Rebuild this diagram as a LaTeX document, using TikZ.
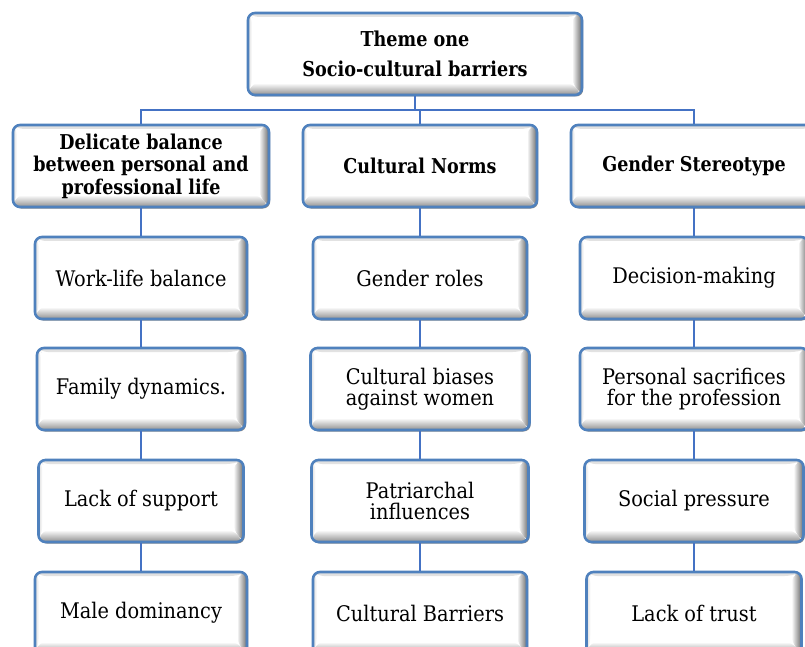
\documentclass[tikz,border=0pt]{standalone}
\usepackage{fontspec}
\setmainfont{DejaVu Serif}
\newfontfamily\leaffont[FakeStretch=0.9]{DejaVu Serif}
\newfontfamily\headfont[FakeStretch=0.86]{DejaVu Serif}
\usetikzlibrary{shadows}
\definecolor{boxblue}{RGB}{79,129,189}
\definecolor{lineblue}{RGB}{68,114,196}
\tikzset{
  box/.style={draw=boxblue, line width=2.6bp, rounded corners=7bp, fill=white,
    align=center, inner sep=2bp, minimum height=82bp,
    drop shadow={shadow xshift=1.2bp, shadow yshift=-1.5bp, opacity=.6, fill=black!75},
    path picture={
      \shade[top color=black!12, bottom color=white]
        (path picture bounding box.north west) -- (path picture bounding box.north east)
        -- ([shift={(-10bp,-4bp)}]path picture bounding box.north east)
        -- ([shift={(4bp,-4bp)}]path picture bounding box.north west) -- cycle;
      \shade[left color=black!14, right color=white]
        (path picture bounding box.north west) -- ([shift={(4bp,-4bp)}]path picture bounding box.north west)
        -- ([shift={(4bp,12bp)}]path picture bounding box.south west)
        -- (path picture bounding box.south west) -- cycle;
      \shade[left color=white, right color=black!58]
        (path picture bounding box.north east) -- (path picture bounding box.south east)
        -- ([shift={(-10bp,12bp)}]path picture bounding box.south east)
        -- ([shift={(-10bp,-4bp)}]path picture bounding box.north east) -- cycle;
      \shade[top color=white, bottom color=black!44]
        (path picture bounding box.south west) -- (path picture bounding box.south east)
        -- ([shift={(-10bp,12bp)}]path picture bounding box.south east)
        -- ([shift={(4bp,12bp)}]path picture bounding box.south west) -- cycle;
    }},
  leaf/.style={box, font=\leaffont\fontsize{21.5bp}{21bp}\selectfont},
  head/.style={box, font=\headfont\bfseries\fontsize{20.4bp}{22.5bp}\selectfont},
  titlebox/.style={box, font=\headfont\bfseries\fontsize{20.5bp}{30bp}\selectfont},
  conn/.style={draw=lineblue, line width=2.2bp}
}
\begin{document}
\begin{tikzpicture}[x=1bp, y=1bp]
\useasboundingbox (0,0) rectangle (805,-647);
\clip (0,0) rectangle (805,-647);
\fill[white] (0,0) rectangle (805,-647);

\coordinate (bus) at (415,-110);

\node[titlebox, minimum width=334bp] (top) at (415,-54) {Theme one\\Socio-cultural barriers};

\node[head, minimum width=256bp] (A) at (141,-166) {Delicate balance\\between personal and\\professional life};
\node[head, minimum width=234bp] (B) at (420,-166) {Cultural Norms};
\node[head, minimum width=246bp] (C) at (694,-166) {Gender Stereotype};

\node[leaf, minimum width=212bp] (A1) at (141,-278) {Work-life balance};
\node[leaf, minimum width=208bp] (A2) at (141,-389) {Family dynamics.};
\node[leaf, minimum width=205bp] (A3) at (141,-501) {Lack of support};
\node[leaf, minimum width=212bp] (A4) at (141,-613) {Male dominancy};

\node[leaf, minimum width=214bp] (B1) at (420,-278) {Gender roles};
\node[leaf, minimum width=219bp] (B2) at (420,-389) {Cultural biases\\against women};
\node[leaf, minimum width=217bp] (B3) at (420,-501) {Patriarchal\\influences};
\node[leaf, minimum width=214bp] (B4) at (420,-613) {Cultural Barriers};

\node[leaf, minimum width=228bp] (C1) at (694,-278) {Decision-making};
\node[leaf, minimum width=228bp] (C2) at (694,-389) {Personal sacrifices\\for the profession};
\node[leaf, minimum width=219bp] (C3) at (694,-501) {Social pressure};
\node[leaf, minimum width=215bp] (C4) at (694,-613) {Lack of trust};

\draw[conn] (top.south) -- (bus);
\draw[conn] (bus) -| (A.north);
\draw[conn] (bus) -| (B.north);
\draw[conn] (bus) -| (C.north);

\draw[conn] (A.south) -- (A1.north);
\draw[conn] (A1.south) -- (A2.north);
\draw[conn] (A2.south) -- (A3.north);
\draw[conn] (A3.south) -- (A4.north);

\draw[conn] (B.south) -- (B1.north);
\draw[conn] (B1.south) -- (B2.north);
\draw[conn] (B2.south) -- (B3.north);
\draw[conn] (B3.south) -- (B4.north);

\draw[conn] (C.south) -- (C1.north);
\draw[conn] (C1.south) -- (C2.north);
\draw[conn] (C2.south) -- (C3.north);
\draw[conn] (C3.south) -- (C4.north);
\end{tikzpicture}
\end{document}
